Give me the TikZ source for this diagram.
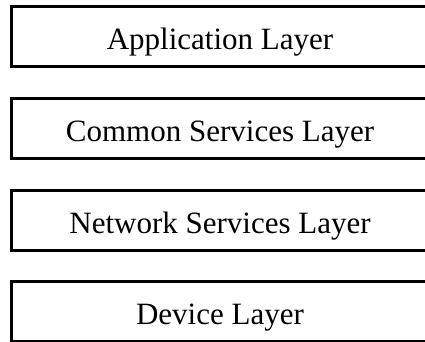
\documentclass[tikz,border=0pt]{standalone}
\usepackage{fontspec}
\setmainfont{Liberation Serif}
\begin{document}
\begin{tikzpicture}[x=1pt,y=1pt,
  layer/.style={inner sep=0pt, text height=26.4pt, text depth=0pt,
    font=\fontsize{31}{34}\selectfont, text=black},
  boxline/.style={draw=black, line width=3pt}]
\useasboundingbox (0,0) rectangle (425,-342);
\clip (0,0) rectangle (425,-342);
\foreach \y in {-36.3,-128.6,-220.4,-311.5}
  \draw[boxline] (11.5,\y+29.75) rectangle (440,\y-29.75);
\node[layer] (app) at (220,-36.3) {Application Layer};
\node[layer] (cse) at (220,-128.6) {Common Services Layer};
\node[layer] (nse) at (220,-220.4) {Network Services Layer};
\node[layer] (dev) at (220,-311.5) {Device Layer};
\end{tikzpicture}
\end{document}
